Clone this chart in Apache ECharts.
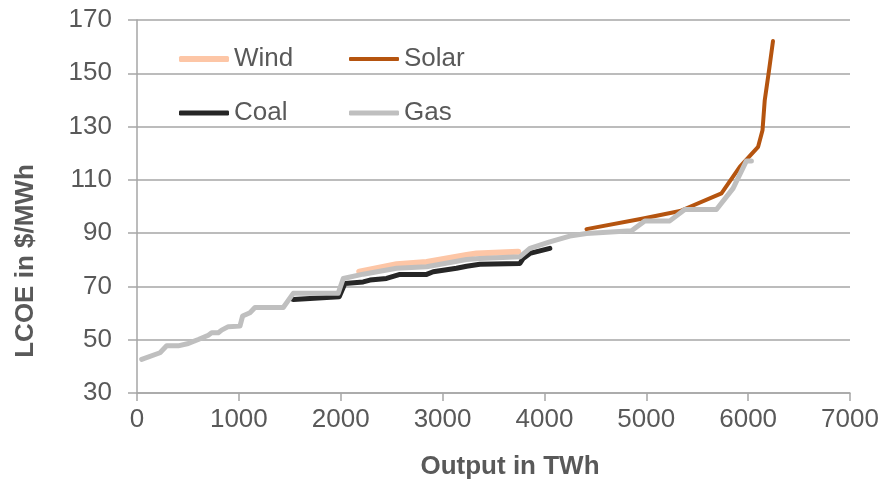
<!DOCTYPE html>
<html>
<head>
<meta charset="utf-8">
<script src="https://cdn.jsdelivr.net/npm/echarts@6/dist/echarts.min.js"></script>
<style>html,body{margin:0;padding:0;background:#fff}#c{width:893px;height:483px}</style>
</head>
<body>
<div id="c"></div>
<script>
var xTicks = [0, 1000, 2000, 3000, 4000, 5000, 6000, 7000];
var yTicks = [30, 50, 70, 90, 110, 130, 150, 170];
var seriesNames = ['Wind', 'Solar', 'Coal', 'Gas'];
var windData = [[2182,75.5],[2549,78.3],[2843,79.2],[3236,81.8],[3334,82.4],[3742,83.0]];
var solarData = [[4413,91.5],[4969,95.5],[5332,98.3],[5738,104.9],[5918,114.9],[6098,122.4],[6141,128.6],[6163,139.9],[6205,151.1],[6244,162.1]];
var coalData = [[1534,65.1],[1985,66.1],[2041,71.1],[2221,71.7],[2287,72.4],[2450,73],[2581,74.5],[2843,74.5],[2908,75.5],[3137,76.8],[3236,77.6],[3366,78.3],[3759,78.6],[3791,80.5],[3857,82.4],[4053,84.3]];
var gasData = [[46,42.6],[226,45.1],[291,47.7],[405,47.7],[504,48.6],[602,50.1],[700,51.7],[733,52.6],[798,52.6],[831,53.6],[896,54.9],[1011,55.1],[1037,58.9],[1109,60.1],[1158,62.1],[1436,62.1],[1534,67.4],[1975,67.4],[2025,73.0],[2221,74.6],[2549,76.8],[2843,77.4],[3236,80.1],[3366,80.5],[3759,81.1],[3857,84.3],[4053,86.7],[4249,88.9],[4413,89.9],[4855,90.9],[4985,94.6],[5231,94.6],[5378,98.9],[5689,98.9],[5852,106.8],[5983,117.1],[6032,117.1]];
var xTitle = 'Output in TWh';
var yTitle = 'LCOE in $/MWh';

var FONT = '"Liberation Sans", Arial, sans-serif';
var TXT = '#595959';
var GRID = '#a6a6a6';
var colors = {Wind:'#FDC6A6', Solar:'#B5540F', Coal:'#262626', Gas:'#BFBFBF'};
var widths = {Wind:6, Solar:4, Coal:5, Gas:5};
var dataMap = {Wind:windData, Solar:solarData, Coal:coalData, Gas:gasData};
var order = ['Coal','Wind','Solar','Gas'];

function mkLegend(name, left, top){
  return {
    data:[{name:name, icon:'roundRect', itemStyle:{color:colors[name]}}],
    left:left, top:top, padding:0, itemWidth:50, itemHeight:widths[name],
    textStyle:{fontFamily:FONT, fontSize:26, color:TXT}
  };
}

var chart = echarts.init(document.getElementById('c'), null, {renderer:'canvas'});
chart.setOption({
  animation:false,
  backgroundColor:'#fff',
  grid:{left:137, right:43, top:20, bottom:90, containLabel:false},
  legend:[mkLegend('Wind',179,46), mkLegend('Solar',349,46), mkLegend('Coal',179,100), mkLegend('Gas',349,100)],
  xAxis:{
    type:'value', min:xTicks[0], max:xTicks[xTicks.length-1], interval:1000,
    axisLine:{show:true, lineStyle:{color:GRID, width:1.5}},
    axisTick:{show:true, length:8, lineStyle:{color:GRID, width:1.5}},
    axisLabel:{fontFamily:FONT, fontSize:26, color:TXT, margin:14, formatter:function(v){return String(v);}},
    splitLine:{show:false}
  },
  yAxis:{
    type:'value', min:yTicks[0], max:yTicks[yTicks.length-1], interval:20,
    axisLine:{show:true, lineStyle:{color:GRID, width:1.5}},
    axisTick:{show:true, length:9, lineStyle:{color:GRID, width:1.5}},
    axisLabel:{fontFamily:FONT, fontSize:26, color:TXT, margin:25, formatter:function(v){return String(v);}},
    splitLine:{show:true, lineStyle:{color:GRID, width:1.5}}
  },
  graphic:[
    {type:'text', x:510, y:467, style:{text:xTitle, fontFamily:FONT, fontSize:26, fontWeight:'bold', fill:TXT, textAlign:'center', textVerticalAlign:'middle'}},
    {type:'text', x:26, y:261, rotation:Math.PI/2, style:{text:yTitle, fontFamily:FONT, fontSize:26, fontWeight:'bold', fill:TXT, textAlign:'center', textVerticalAlign:'middle'}}
  ],
  series: order.map(function(n){
    return {
      name:n, type:'line', data:dataMap[n], showSymbol:false, symbol:'none',
      lineStyle:{color:colors[n], width:widths[n], cap:'round', join:'round'},
      itemStyle:{color:colors[n]}, z: 2
    };
  })
});
</script>
</body>
</html>
